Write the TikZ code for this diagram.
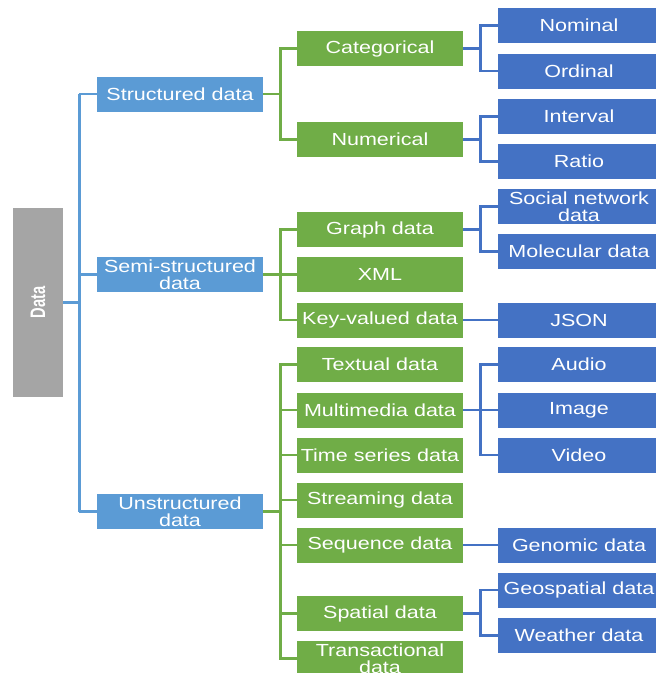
\documentclass[tikz,border=0pt]{standalone}
\usepackage{fontspec}
\setmainfont{Liberation Sans}[FakeStretch=1.23]
\newfontfamily\datafont{Liberation Sans}[FakeStretch=0.7]
\definecolor{LBlue}{HTML}{5B9BD5}
\definecolor{Green}{HTML}{70AD47}
\definecolor{DBlue}{HTML}{4472C4}
\definecolor{Gray}{HTML}{A5A5A5}
\begin{document}
\begin{tikzpicture}[x=1pt,y=-1pt,
  box/.style={draw=none, text=white, align=center, inner sep=0pt, minimum height=35pt,
    font=\fontsize{17.5}{16.5}\selectfont},
  lone/.style={box, fill=LBlue, minimum width=166pt},
  ltwo/.style={box, fill=Green, minimum width=166pt},
  lthree/.style={box, fill=DBlue, minimum width=162pt},
  bline/.style={draw=LBlue, line width=2.6pt},
  gline/.style={draw=Green, line width=2.6pt},
  dline/.style={draw=DBlue, line width=2.6pt},
]
\useasboundingbox (0,0) rectangle (656,673);
% root
\node[fill=Gray, minimum width=50pt, minimum height=189pt, inner sep=0pt] (data) at (38,302.5) {};
\node[rotate=90, text=white, inner sep=0pt, font=\datafont\bfseries\fontsize{21}{21}\selectfont] (datalbl) at (data.center) {Data};
% level 1
\node[lone] (sd) at (180,94) {Structured data};
\node[lone] (ssd) at (180,274.5) {Semi-structured\\data};
\node[lone] (ud) at (180,511.5) {Unstructured\\data};
% level 2
\node[ltwo] (cat) at (380,48.5) {Categorical};
\node[ltwo] (num) at (380,139.5) {Numerical};
\node[ltwo] (graph) at (380,229.5) {Graph data};
\node[ltwo] (xml) at (380,274.5) {XML};
\node[ltwo] (kv) at (380,320) {Key-valued data};
\node[ltwo] (txt) at (380,364.5) {Textual data};
\node[ltwo] (mm) at (380,410) {Multimedia data};
\node[ltwo] (ts) at (380,455) {Time series data};
\node[ltwo] (str) at (380,500) {Streaming data};
\node[ltwo] (seq) at (380,545) {Sequence data};
\node[ltwo] (spa) at (380,613.5) {Spatial data};
\node[ltwo] (tra) at (380,658.5) {Transactional\\data};
% level 3
\node[lthree] (nom) at (579,25.5) {Nominal};
\node[lthree] (ord) at (579,71) {Ordinal};
\node[lthree] (int) at (579,116.5) {Interval};
\node[lthree] (rat) at (579,161.5) {Ratio};
\node[lthree] (soc) at (579,206.5) {Social network\\data};
\node[lthree] (mol) at (579,251.5) {Molecular data};
\node[lthree] (json) at (579,320) {JSON};
\node[lthree] (aud) at (579,364.5) {Audio};
\node[lthree] (img) at (579,410) {Image};
\node[lthree] (vid) at (579,455) {Video};
\node[lthree] (gen) at (579,545) {Genomic data};
\node[lthree] (geo) at (579,590) {Geospatial data};
\node[lthree] (wea) at (579,635.5) {Weather data};
% level 1 connectors
\draw[bline] (data.east) -- ([xshift=16pt]data.east);
\draw[bline] ([xshift=16pt]data.east |- sd.west) -- ([xshift=16pt]data.east |- ud.west);
\draw[bline] ([xshift=16pt]data.east |- sd.west) -- (sd.west);
\draw[bline] ([xshift=16pt]data.east |- ssd.west) -- (ssd.west);
\draw[bline] ([xshift=16pt]data.east |- ud.west) -- (ud.west);
% level 2 connectors
\draw[gline] (sd.east) -- ([xshift=17pt]sd.east);
\draw[gline] ([xshift=17pt]sd.east) |- (cat.west);
\draw[gline] ([xshift=17pt]sd.east) |- (num.west);
\draw[gline] (ssd.east) -- ([xshift=17pt]ssd.east);
\draw[gline] ([xshift=17pt]ssd.east) |- (graph.west);
\draw[gline] ([xshift=17pt]ssd.east) -- (xml.west);
\draw[gline] ([xshift=17pt]ssd.east) |- (kv.west);
\draw[gline] (ud.east) -- ([xshift=17pt]ud.east);
\foreach \n in {txt,mm,ts,str,seq,spa,tra}{
  \draw[gline] ([xshift=17pt]ud.east) |- (\n.west);
}
% level 3 connectors
\draw[dline] (cat.east) -- ([xshift=17pt]cat.east);
\draw[dline] ([xshift=17pt]cat.east) |- (nom.west);
\draw[dline] ([xshift=17pt]cat.east) |- (ord.west);
\draw[dline] (num.east) -- ([xshift=17pt]num.east);
\draw[dline] ([xshift=17pt]num.east) |- (int.west);
\draw[dline] ([xshift=17pt]num.east) |- (rat.west);
\draw[dline] (graph.east) -- ([xshift=17pt]graph.east);
\draw[dline] ([xshift=17pt]graph.east) |- (soc.west);
\draw[dline] ([xshift=17pt]graph.east) |- (mol.west);
\draw[dline] (kv.east) -- (json.west);
\draw[dline] (mm.east) -- ([xshift=17pt]mm.east);
\draw[dline] ([xshift=17pt]mm.east) |- (aud.west);
\draw[dline] ([xshift=17pt]mm.east) -- (img.west);
\draw[dline] ([xshift=17pt]mm.east) |- (vid.west);
\draw[dline] (seq.east) -- (gen.west);
\draw[dline] (spa.east) -- ([xshift=17pt]spa.east);
\draw[dline] ([xshift=17pt]spa.east) |- (geo.west);
\draw[dline] ([xshift=17pt]spa.east) |- (wea.west);
\end{tikzpicture}
\end{document}
